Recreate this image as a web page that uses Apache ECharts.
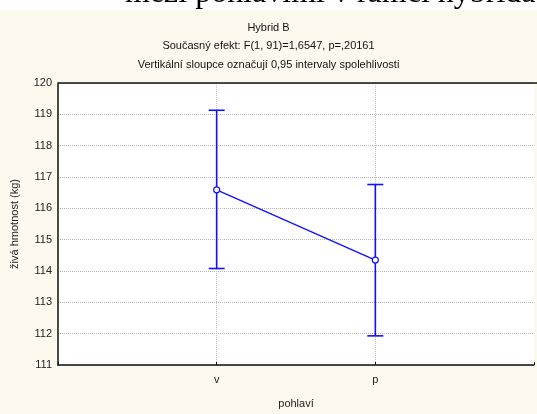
<!DOCTYPE html>
<html>
<head>
<meta charset="utf-8">
<script src="https://cdn.jsdelivr.net/npm/echarts@6/dist/echarts.min.js"></script>
<style>
  html, body { margin: 0; padding: 0; background: #ffffff; overflow: hidden; }
  #chart { width: 537px; height: 414px; }
</style>
</head>
<body>
<div id="chart"></div>
<script>
// Group means of live weight with 0.95 confidence intervals
const categories = ['v', 'p'];
const means = [116.59, 114.35];
const lowerCI = [114.08, 111.93];
const upperCI = [119.13, 116.76];
const yTicks = [111, 112, 113, 114, 115, 116, 117, 118, 119, 120];

const titleLines = [
  'Hybrid B',
  'Současný efekt: F(1, 91)=1,6547, p=,20161',
  'Vertikální sloupce označují 0,95 intervaly spolehlivosti'
];
const headingText = 'mezi pohlavími v rámci hybrida';

const FONT = 'Liberation Sans, Arial, sans-serif';
const BLUE = '#1010ff';
const CREAM = '#fef9ee';

// Categories sit on integer positions 1..n of a value axis spanning 0..n+1
const xOf = i => i + 1;
const meanData = means.map((m, i) => [xOf(i), m]);
const ciData = categories.map((c, i) => [xOf(i), lowerCI[i], upperCI[i]]);

const chart = echarts.init(document.getElementById('chart'), null, { renderer: 'canvas' });

chart.setOption({
  backgroundColor: '#ffffff',
  animation: false,
  graphic: [
    // cream page panel below the white strip
    { type: 'rect', z: -10, silent: true,
      shape: { x: 0, y: 10, width: 537, height: 404 },
      style: { fill: CREAM } },
    // running heading of the page, mostly hidden by the panel
    { type: 'text', z: -8, silent: true,
      style: { x: 125, y: -22, text: headingText,
               font: '32px "Liberation Serif", "Times New Roman", serif', fill: '#000' } },
    { type: 'rect', z: -6, silent: true,
      shape: { x: 0, y: 10, width: 537, height: 20 },
      style: { fill: CREAM } },
    // top edge of the plot frame
    { type: 'line', z: 6, silent: true,
      shape: { x1: 58, y1: 83, x2: 537, y2: 83 },
      style: { stroke: '#111', lineWidth: 1.5 } }
  ],
  title: titleLines.map((t, i) => ({
    text: t,
    left: 'center',
    top: 17 + i * 18.8,
    textStyle: { fontFamily: FONT, fontSize: 11, fontWeight: 'normal', color: '#111' }
  })),
  grid: {
    left: 58, top: 83, width: 483, height: 287,
    show: true, backgroundColor: '#ffffff', borderWidth: 0
  },
  xAxis: {
    type: 'value', min: 0, max: categories.length + 1, interval: 1,
    name: 'pohlaví', nameLocation: 'middle', nameGap: 33,
    nameTextStyle: { fontFamily: FONT, fontSize: 11, color: '#222' },
    axisLine: { show: true, lineStyle: { color: '#111', width: 1.5 } },
    axisTick: { show: true, length: 3, inside: true, lineStyle: { color: '#111' } },
    axisLabel: {
      fontFamily: FONT, fontSize: 11, color: '#222', margin: 9,
      formatter: v => (v >= 1 && v <= categories.length && Number.isInteger(v)) ? categories[v - 1] : ''
    },
    splitLine: { show: true, showMinLine: false, showMaxLine: false,
                 lineStyle: { color: '#c8c8c8', type: [1, 1], width: 1 } }
  },
  yAxis: {
    type: 'value', min: yTicks[0], max: yTicks[yTicks.length - 1], interval: 1,
    name: 'živá hmotnost (kg)', nameLocation: 'middle', nameGap: 38,
    nameTextStyle: { fontFamily: FONT, fontSize: 11, color: '#222' },
    axisLine: { show: true, lineStyle: { color: '#111', width: 1.5 } },
    axisTick: { show: false },
    axisLabel: { fontFamily: FONT, fontSize: 11, color: '#222', margin: 6 },
    splitLine: { show: true, lineStyle: { color: '#b8b8b8', type: [1, 1], width: 1 } }
  },
  series: [
    {
      type: 'custom',
      data: ciData,
      z: 3,
      renderItem: (params, api) => {
        const x = api.value(0);
        const lo = api.coord([x, api.value(1)]);
        const hi = api.coord([x, api.value(2)]);
        const hw = 8;
        const style = { stroke: BLUE, lineWidth: 1.6, fill: null };
        return {
          type: 'group',
          children: [
            { type: 'line', shape: { x1: lo[0], y1: lo[1], x2: hi[0], y2: hi[1] }, style },
            { type: 'line', shape: { x1: hi[0] - hw, y1: hi[1], x2: hi[0] + hw, y2: hi[1] }, style },
            { type: 'line', shape: { x1: lo[0] - hw, y1: lo[1], x2: lo[0] + hw, y2: lo[1] }, style }
          ]
        };
      }
    },
    {
      type: 'line',
      data: meanData,
      z: 4,
      symbol: 'circle',
      symbolSize: 6,
      lineStyle: { color: BLUE, width: 1.3 },
      itemStyle: { color: '#ffffff', borderColor: BLUE, borderWidth: 1.2 }
    }
  ]
});
</script>
</body>
</html>
